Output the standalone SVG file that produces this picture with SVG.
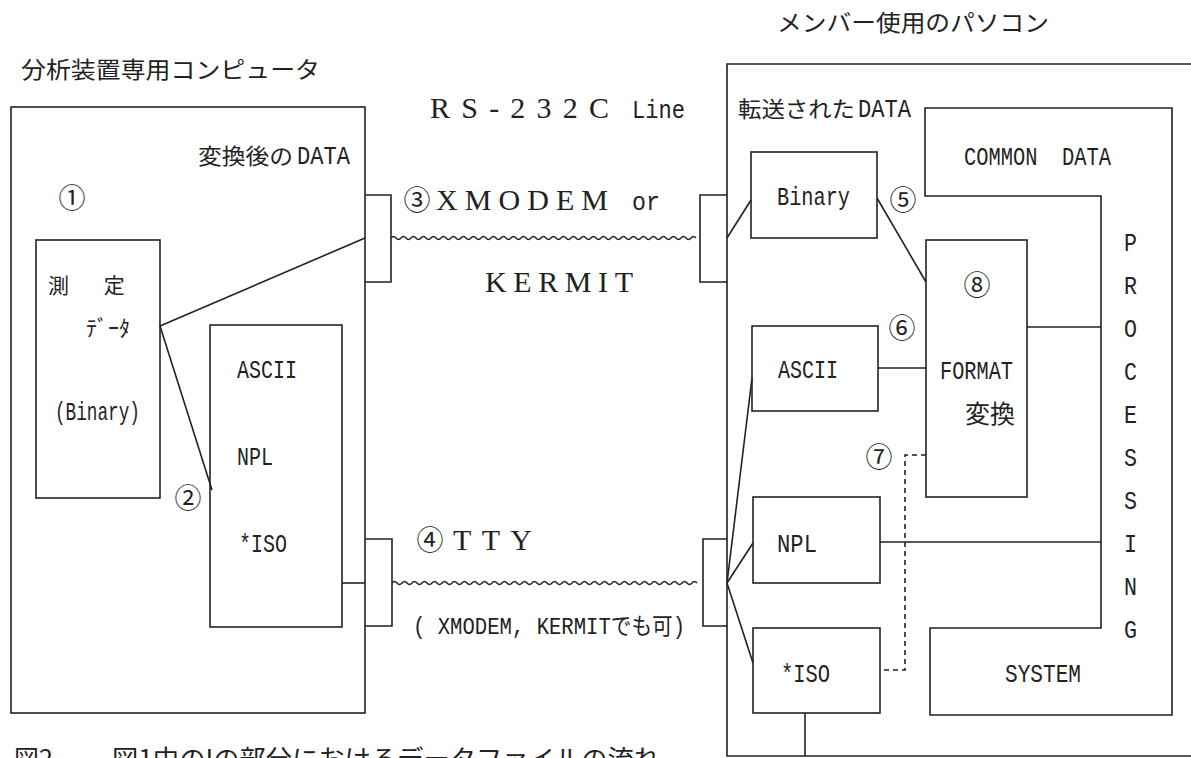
<svg xmlns="http://www.w3.org/2000/svg" width="1191" height="758" viewBox="0 0 1191 758">
<style>
.ln{fill:none;stroke:#222;stroke-width:1.6}
.dash{stroke-dasharray:5 4}
.jp{font-family:"Noto Sans CJK JP","Noto Sans CJK SC",sans-serif;fill:#222}
.mono{font-family:"Liberation Mono","DejaVu Sans Mono",monospace;fill:#222;font-size:26px}
.serif{font-family:"Liberation Serif","DejaVu Serif",serif;fill:#222;font-size:30px}
.num{font-family:"Noto Sans CJK JP","Noto Sans CJK SC",sans-serif;fill:#222;font-size:27px;text-anchor:middle}
</style>
<defs>
<path id="wave" fill="none" stroke="#222" stroke-width="1.5" d="M0,0 q2.5,-3 5,0 t5,0 t5,0 t5,0 t5,0 t5,0 t5,0 t5,0 t5,0 t5,0 t5,0 t5,0 t5,0 t5,0 t5,0 t5,0 t5,0 t5,0 t5,0 t5,0 t5,0 t5,0 t5,0 t5,0 t5,0 t5,0 t5,0 t5,0 t5,0 t5,0 t5,0 t5,0 t5,0 t5,0 t5,0 t5,0 t5,0 t5,0 t5,0 t5,0 t5,0 t5,0 t5,0 t5,0 t5,0 t5,0 t5,0 t5,0 t5,0 t5,0 t5,0 t5,0 t5,0 t5,0 t5,0 t5,0 t5,0 t5,0 t5,0 t5,0 t5,0"/>
</defs>
<rect width="1191" height="758" fill="#fff"/>

<text class="jp" x="777" y="31" font-size="23" textLength="272" lengthAdjust="spacingAndGlyphs">メンバー使用のパソコン</text>
<text class="jp" x="21" y="78" font-size="23" textLength="299" lengthAdjust="spacingAndGlyphs">分析装置専用コンピュータ</text>

<g id="analyzer-computer">
<rect class="ln" x="11" y="107" width="354" height="606"/>
<text y="164"><tspan class="jp" font-size="22" x="198" textLength="95" lengthAdjust="spacingAndGlyphs">変換後の</tspan><tspan class="mono" x="297" textLength="53" lengthAdjust="spacingAndGlyphs">DATA</tspan></text>
<text class="num" x="72" y="208">①</text>
</g>

<g id="measurement-data">
<rect class="ln" x="36" y="240" width="124" height="258"/>
<text class="jp" font-size="21"><tspan x="48" y="293">測</tspan><tspan x="99" y="293"> 定</tspan></text>
<text class="jp" x="86" y="336" font-size="22" textLength="44" lengthAdjust="spacingAndGlyphs">ﾃﾞｰﾀ</text>
<text class="mono" x="55" y="420" textLength="85" lengthAdjust="spacingAndGlyphs">(Binary)</text>
</g>

<g id="converted-data">
<rect class="ln" x="210" y="325" width="132" height="302"/>
<text class="mono" x="237" y="378" textLength="60" lengthAdjust="spacingAndGlyphs">ASCII</text>
<text class="mono" x="237" y="465" textLength="36" lengthAdjust="spacingAndGlyphs">NPL</text>
<text class="mono" x="239" y="552" textLength="48" lengthAdjust="spacingAndGlyphs">*ISO</text>
<text class="num" x="188" y="508">②</text>
</g>

<g id="port-3-left"><path class="ln" d="M365,195 H391 V282 H365"/></g>
<g id="port-4-left"><path class="ln" d="M365,539 H392 V626 H365"/></g>
<g id="port-3-right"><path class="ln" d="M727,195 H700 V282 H727"/></g>
<g id="port-4-right"><path class="ln" d="M727,539 H703 V626 H727"/></g>

<g id="line-labels">
<text class="serif" x="430" y="118" textLength="179">RS-232C</text>
<text class="mono" x="632" y="118" textLength="53" lengthAdjust="spacingAndGlyphs">Line</text>
<text class="num" x="417" y="210">③</text>
<text class="serif" x="436" y="210" textLength="172">XMODEM</text>
<text class="mono" x="632" y="210" textLength="28" lengthAdjust="spacingAndGlyphs">or</text>
<text class="serif" x="485" y="292" textLength="148">KERMIT</text>
<text class="num" x="430" y="550">④</text>
<text class="serif" x="453" y="550" textLength="79">TTY</text>
<text x="413" y="634" font-size="23" textLength="272" lengthAdjust="spacingAndGlyphs" style="font-family:'Liberation Mono','Noto Sans CJK JP',monospace;fill:#222">( XMODEM, KERMITでも可)</text>
</g>

<g id="member-pc">
<path class="ln" d="M1191,64 H727 V756 H1191"/>
<text y="117"><tspan class="jp" font-size="22" x="738" textLength="117" lengthAdjust="spacingAndGlyphs">転送された</tspan><tspan class="mono" x="858" textLength="53" lengthAdjust="spacingAndGlyphs">DATA</tspan></text>
</g>

<g id="binary">
<rect class="ln" x="751" y="152" width="126" height="86"/>
<text class="mono" x="777" y="205" textLength="73" lengthAdjust="spacingAndGlyphs">Binary</text>
<text class="num" x="903" y="210">⑤</text>
</g>

<g id="ascii">
<rect class="ln" x="752" y="326" width="126" height="85"/>
<text class="mono" x="778" y="378" textLength="60" lengthAdjust="spacingAndGlyphs">ASCII</text>
<text class="num" x="902" y="338">⑥</text>
</g>

<g id="npl">
<rect class="ln" x="753" y="497" width="127" height="86"/>
<text class="mono" x="777" y="552" textLength="40" lengthAdjust="spacingAndGlyphs">NPL</text>
</g>

<g id="iso">
<rect class="ln" x="753" y="628" width="127" height="85"/>
<text class="mono" x="781" y="682" textLength="49" lengthAdjust="spacingAndGlyphs">*ISO</text>
<text class="num" x="879" y="467">⑦</text>
</g>

<g id="format-conversion">
<rect class="ln" x="926" y="240" width="101" height="257"/>
<text class="num" x="977" y="295">⑧</text>
<text class="mono" x="940" y="379" textLength="73" lengthAdjust="spacingAndGlyphs">FORMAT</text>
<text class="jp" x="965" y="423" font-size="25" textLength="50" lengthAdjust="spacingAndGlyphs">変換</text>
</g>

<g id="processing-system">
<path class="ln" d="M925,108 H1172 V715 H930 V628 H1101 V196 H925 Z"/>
<text class="mono" x="964" y="165" textLength="147" lengthAdjust="spacingAndGlyphs" style="white-space:pre">COMMON  DATA</text>
<text class="mono" x="1005" y="682" textLength="76" lengthAdjust="spacingAndGlyphs">SYSTEM</text>
<text class="mono"><tspan x="1124" y="251" textLength="13" lengthAdjust="spacingAndGlyphs">P</tspan><tspan x="1124" y="294" textLength="13" lengthAdjust="spacingAndGlyphs">R</tspan><tspan x="1124" y="337" textLength="13" lengthAdjust="spacingAndGlyphs">O</tspan><tspan x="1124" y="380" textLength="13" lengthAdjust="spacingAndGlyphs">C</tspan><tspan x="1124" y="423" textLength="13" lengthAdjust="spacingAndGlyphs">E</tspan><tspan x="1124" y="466" textLength="13" lengthAdjust="spacingAndGlyphs">S</tspan><tspan x="1124" y="509" textLength="13" lengthAdjust="spacingAndGlyphs">S</tspan><tspan x="1124" y="552" textLength="13" lengthAdjust="spacingAndGlyphs">I</tspan><tspan x="1124" y="595" textLength="13" lengthAdjust="spacingAndGlyphs">N</tspan><tspan x="1124" y="638" textLength="13" lengthAdjust="spacingAndGlyphs">G</tspan></text>
</g>

<g id="connectors">
<path class="ln" d="M160,326 L365,238"/>
<path class="ln" d="M160,326 L212,490"/>
<path class="ln" d="M342,583 H365"/>
<use href="#wave" x="391" y="238"/>
<use href="#wave" x="392" y="583"/>
<path class="ln" d="M727,238 L751,200"/>
<path class="ln" d="M877,198 L926,282"/>
<path class="ln" d="M878,368 H926"/>
<path class="ln" d="M1027,327 H1101"/>
<path class="ln" d="M880,542 H1101"/>
<path class="ln" d="M727,583 L752,378 M727,583 L753,543 M727,583 L753,663"/>
<path class="ln" d="M805,713 V756"/>
<path class="ln dash" d="M926,455 H905 V670 H880"/>
</g>

<text class="jp" y="768" font-size="25"><tspan x="14">図2</tspan><tspan x="112" textLength="548" lengthAdjust="spacingAndGlyphs">図1中のIの部分におけるデータファイルの流れ</tspan></text>
</svg>
